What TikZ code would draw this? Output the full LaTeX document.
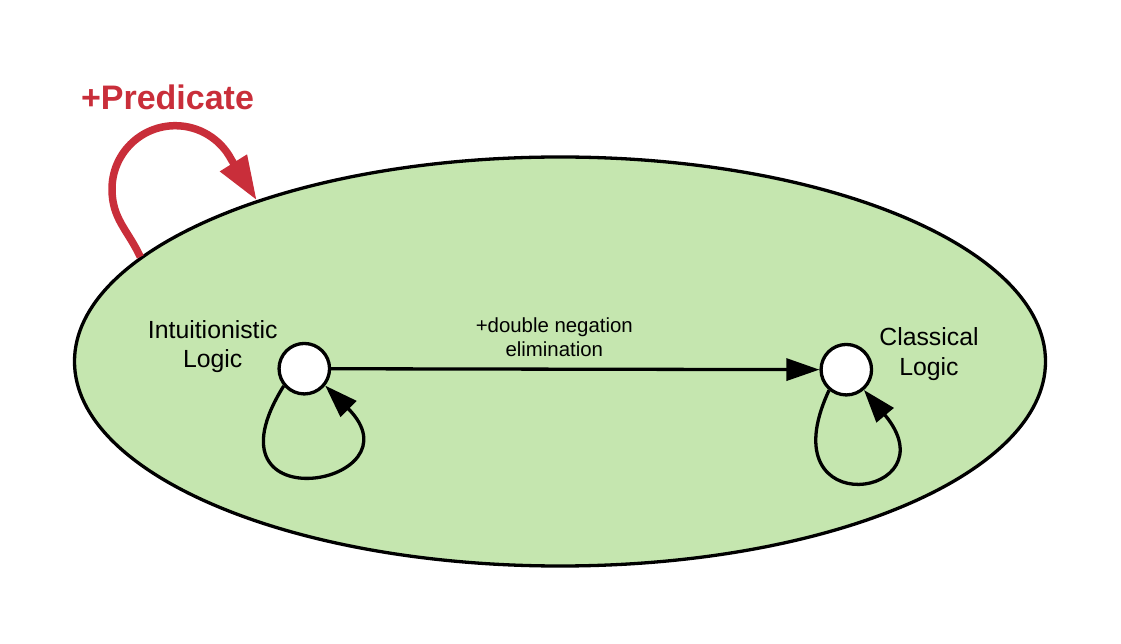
\documentclass[tikz,border=0pt]{standalone}
\usepackage{fontspec}
\setmainfont{Liberation Sans}
\usetikzlibrary{arrows.meta,shapes.geometric}
\definecolor{logicgreen}{RGB}{197,230,175}
\definecolor{predred}{RGB}{201,46,58}
\tikzset{
    every node/.style={circle, inner sep=0pt, draw, line width=3.3pt, fill=white, minimum size=50.5pt}
}
\tikzset{every label/.style={shape=rectangle, draw=none, fill=none, minimum size=0pt, inner sep=0pt, align=center, font=\fontsize{24.8}{29.5}\selectfont}}
\tikzset{txt/.style={shape=rectangle, draw=none, fill=none, minimum size=0pt}}

\begin{document}
\begin{tikzpicture}[x=1pt, y=1pt, >={Triangle[length=33pt, width=22pt]},
        trans/.style={line width=3.3pt, ->}]
    \useasboundingbox (0,0) rectangle (1121,643);

    \node (logics) at (560,281.5) [ellipse, fill=logicgreen, minimum width=971pt, minimum height=409pt] {};

    \node (int) at (304.3,274.3) [label={[anchor=south east, xshift=1.8pt, yshift=-5.6pt]left:{Intuitionistic\\Logic}}] {};
    \node (cla) at (846.3,273.3) [label={[anchor=south west, xshift=4.5pt, yshift=-12.5pt]right:{Classical\\Logic}}] {};

    \draw[trans] (int) -- node[txt, pos=.457, above=11pt, align=center, font=\fontsize{20.4}{23.5}\selectfont] {+double negation\\elimination} (cla);
    \draw[trans] (int.220) .. controls +(-122:165) and +(-45:140) .. (int.-39);
    \draw[trans] (cla.230) .. controls +(-115:150) and +(-50:140) .. (cla.-49);

    \coordinate (bend) at (112,454);
    \draw[predred, line width=7.5pt, -{Triangle[length=44pt, width=30pt]}] (logics.166) .. controls +(115:30) and +(-90:30) .. (bend) arc[start angle=180, end angle=27.5, radius=63.3] -- (logics.152.5);
    \node (pred) at (167.5,533.7) [txt, anchor=base, text=predred, font=\fontsize{34}{40}\selectfont\bfseries] {+Predicate};
\end{tikzpicture}
\end{document}
